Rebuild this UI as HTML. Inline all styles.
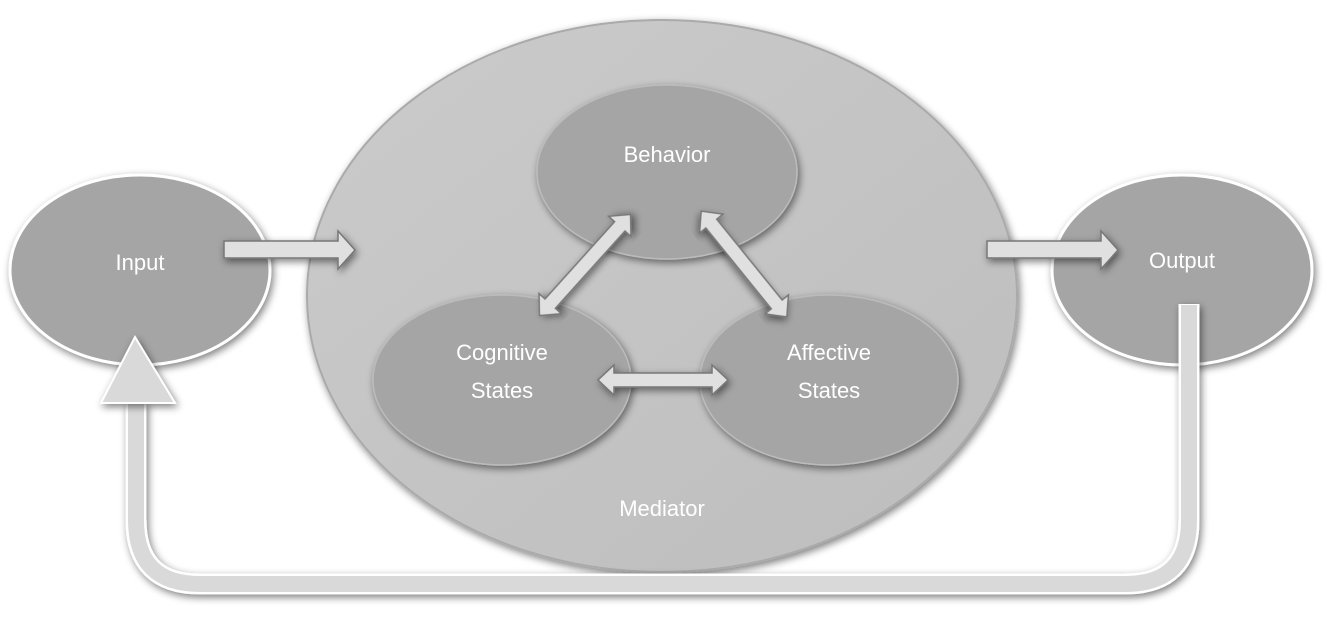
<!DOCTYPE html>
<html><head><style>
html,body{margin:0;padding:0;background:#fff;}
svg{display:block}
text{font-family:"Liberation Sans",sans-serif;fill:#fff;font-size:22px;text-anchor:middle}
</style></head><body>
<svg width="1334" height="637" viewBox="0 0 1334 637">
<defs>
<filter id="sh" x="-20%" y="-20%" width="140%" height="140%"><feGaussianBlur in="SourceAlpha" stdDeviation="4"/><feOffset dx="2" dy="3"/><feComponentTransfer><feFuncA type="linear" slope="0.5"/></feComponentTransfer><feMerge><feMergeNode/><feMergeNode in="SourceGraphic"/></feMerge></filter>
<linearGradient id="mg" x1="0" y1="0" x2="1" y2="1"><stop offset="0" stop-color="#cbcbcb"/><stop offset="1" stop-color="#bdbdbd"/></linearGradient>
</defs>
<!-- mediator -->
<ellipse cx="662" cy="296" rx="355" ry="276" fill="url(#mg)" stroke="#aaa" stroke-width="2" filter="url(#sh)"/>
<!-- input/output -->
<ellipse cx="140" cy="270" rx="130" ry="95" fill="#a5a5a5" stroke="#fff" stroke-width="3" filter="url(#sh)"/>
<ellipse cx="1182" cy="270" rx="130" ry="95" fill="#a5a5a5" stroke="#fff" stroke-width="3" filter="url(#sh)"/>
<!-- feedback loop (on top) -->
<path d="M1189 304 V520 Q1189 584 1125 584 H200 Q136 584 136 520 V402" fill="none" stroke="#fff" stroke-width="21" filter="url(#sh)"/>
<path d="M1189 305 V520 Q1189 584 1125 584 H200 Q136 584 136 520 V400" fill="none" stroke="#d9d9d9" stroke-width="16"/>
<polygon points="101,403 135,337 175,403" fill="#d9d9d9" stroke="#fff" stroke-width="2" filter="url(#sh)"/>
<!-- inner ellipses -->
<ellipse cx="667" cy="172" rx="130" ry="87" fill="#a5a5a5" stroke="#bbb" stroke-width="1.5" filter="url(#sh)"/>
<ellipse cx="502" cy="380" rx="129" ry="85" fill="#a5a5a5" stroke="#bbb" stroke-width="1.5" filter="url(#sh)"/>
<ellipse cx="829" cy="380" rx="129" ry="85" fill="#a5a5a5" stroke="#bbb" stroke-width="1.5" filter="url(#sh)"/>
<!-- straight arrows -->
<g fill="#e0e0e0" stroke="#777" stroke-width="1.5" filter="url(#sh)">
<polygon points="224,241 338,241 338,231 355,250 338,269 338,258 224,258"/>
<polygon points="987,241 1101,241 1101,231 1118,250 1101,269 1101,258 987,258"/>
<polygon points="598,380 614,365 614,373 712,373 712,365 728,380 712,395 712,387 614,387 614,395"/>
</g>
<g fill="#e0e0e0" stroke="#777" stroke-width="1.5" filter="url(#sh)" transform="translate(585,265) rotate(-48)">
<polygon points="-68,0 -52,-15 -52,-7 52,-7 52,-15 68,0 52,15 52,7 -52,7 -52,15"/>
</g>
<g fill="#e0e0e0" stroke="#777" stroke-width="1.5" filter="url(#sh)" transform="translate(744,264) rotate(51)">
<polygon points="-68,0 -52,-15 -52,-7 52,-7 52,-15 68,0 52,15 52,7 -52,7 -52,15"/>
</g>
<text x="140" y="270">Input</text>
<text x="1182" y="268">Output</text>
<text x="667" y="162">Behavior</text>
<text x="502" y="360">Cognitive</text>
<text x="502" y="398">States</text>
<text x="829" y="360">Affective</text>
<text x="829" y="398">States</text>
<text x="662" y="516">Mediator</text>
</svg>
</body></html>
